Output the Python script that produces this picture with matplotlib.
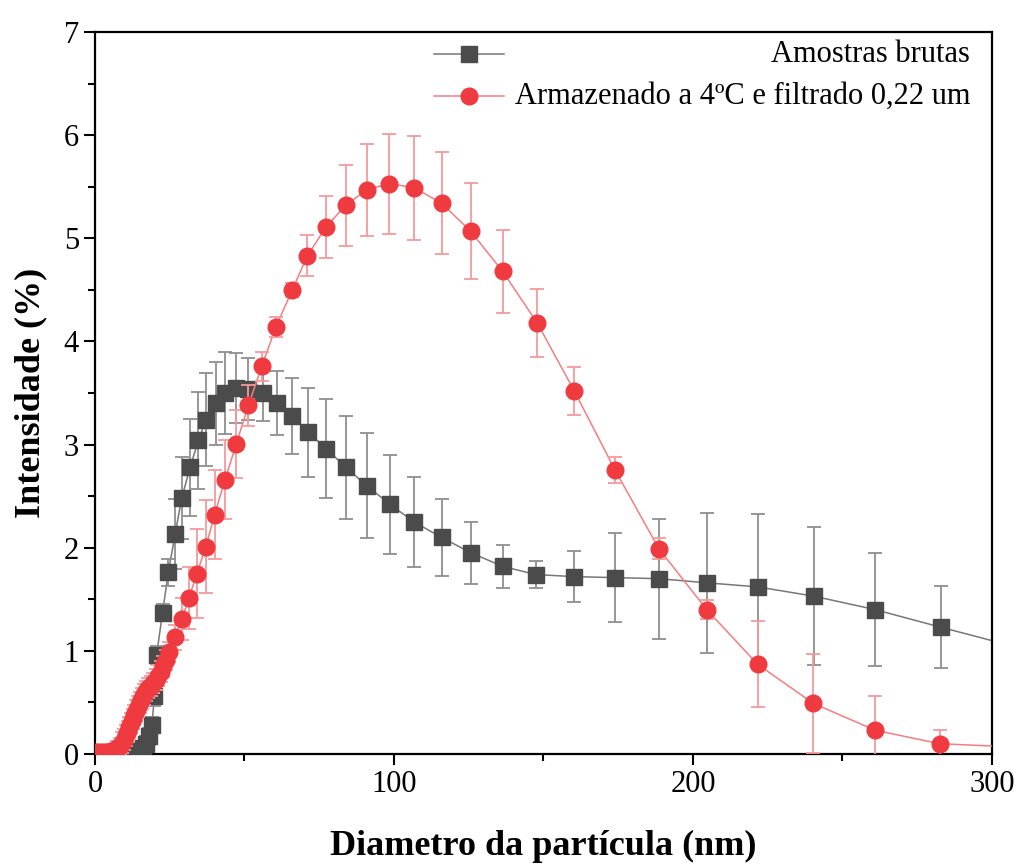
import matplotlib
matplotlib.use("Agg")
import matplotlib.pyplot as plt
from matplotlib.ticker import MultipleLocator

plt.rcParams['font.family'] = ['Liberation Serif', 'DejaVu Serif']

# ---- data: Amostras brutas (black squares) ----
bx = [11.4, 12.4, 13.5, 14.6, 15.4, 16.2, 17.2, 18.2, 19.0, 19.9, 20.6, 22.6, 24.5,
      26.8, 29.0, 31.8, 34.6, 37.1, 40.4, 43.5, 47.2, 51.1, 56.1, 60.8, 65.8, 71.3,
      77.3, 83.9, 90.9, 98.7, 106.7, 115.9, 125.8, 136.3, 147.4, 160.2, 174.0,
      188.6, 204.6, 221.8, 240.5, 260.9, 282.8, 306.5]
by = [0.00, 0.00, 0.01, 0.02, 0.03, 0.06, 0.10, 0.17, 0.28, 0.56, 0.96, 1.37, 1.76,
      2.13, 2.48, 2.78, 3.04, 3.24, 3.40, 3.50, 3.55, 3.54, 3.50, 3.40, 3.28, 3.12,
      2.96, 2.78, 2.60, 2.42, 2.25, 2.10, 1.95, 1.82, 1.74, 1.72, 1.71,
      1.70, 1.66, 1.62, 1.53, 1.40, 1.23, 1.05]
be = [0.02, 0.02, 0.03, 0.04, 0.05, 0.06, 0.07, 0.08, 0.08, 0.09, 0.09, 0.08, 0.13,
      0.34, 0.40, 0.47, 0.47, 0.45, 0.40, 0.40, 0.34, 0.30, 0.27, 0.31, 0.37, 0.43,
      0.48, 0.50, 0.51, 0.48, 0.44, 0.37, 0.30, 0.21, 0.13, 0.25, 0.43,
      0.58, 0.68, 0.71, 0.67, 0.55, 0.40, 0.30]

# ---- data: Armazenado a 4ºC e filtrado 0,22 um (red circles) ----
rx = [0.5, 1.5, 2.5, 3.5, 4.5, 5.5, 6.5, 7.5, 8.3, 9.0, 9.7, 10.3, 10.9, 11.5, 12.0,
      12.6, 13.1, 13.7, 14.3, 14.9, 15.6, 16.3, 17.0, 17.8, 18.6, 19.4, 20.3, 21.2,
      22.0, 22.8, 23.7, 24.7, 26.8, 29.1, 31.4, 34.1, 37.1, 40.0, 43.5, 47.3, 51.3,
      55.8, 60.5, 66.0, 71.0, 77.3, 83.8, 90.9, 98.4, 106.8, 115.9, 125.6, 136.3,
      147.9, 160.3, 174.0, 188.6, 204.6, 221.6, 240.3, 261.0, 282.5, 306.0]
ry = [0.02, 0.02, 0.02, 0.02, 0.02, 0.03, 0.04, 0.06, 0.08, 0.11, 0.14, 0.18, 0.22,
      0.26, 0.30, 0.34, 0.38, 0.42, 0.46, 0.50, 0.54, 0.58, 0.61, 0.64, 0.66, 0.69,
      0.72, 0.76, 0.80, 0.85, 0.91, 0.99, 1.13, 1.31, 1.51, 1.75, 2.01, 2.32, 2.66,
      3.01, 3.38, 3.76, 4.14, 4.50, 4.83, 5.11, 5.32, 5.47, 5.53, 5.49, 5.34, 5.07,
      4.68, 4.18, 3.52, 2.75, 1.99, 1.40, 0.87, 0.49, 0.23, 0.10, 0.07]
re_ = [0.02, 0.02, 0.02, 0.02, 0.02, 0.03, 0.05, 0.07, 0.08, 0.10, 0.10, 0.10, 0.10,
       0.10, 0.10, 0.10, 0.10, 0.10, 0.10, 0.10, 0.10, 0.10, 0.10, 0.10, 0.10, 0.10,
       0.10, 0.10, 0.10, 0.10, 0.10, 0.10, 0.12, 0.20, 0.30, 0.43, 0.45, 0.43, 0.38,
       0.33, 0.20, 0.14, 0.10, 0.07, 0.20, 0.30, 0.39, 0.445, 0.485, 0.505, 0.495,
       0.465, 0.405, 0.33, 0.235, 0.125, 0.10, 0.09, 0.415, 0.48, 0.33, 0.13, 0.05]

labels = ["Amostras brutas", "Armazenado a 4ºC e filtrado 0,22 um"]
xlabel = "Diametro da partícula (nm)"
ylabel = "Intensidade (%)"

blk_marker = "#4b4b4b"
blk_line = "#777777"
blk_err = "#8f8f8f"
red_marker = "#ef3b40"
red_line = "#f47d80"
red_err = "#f59a9c"

fig = plt.figure(figsize=(10.17, 8.67), dpi=100)
ax = fig.add_axes([0.0934, 0.1303, 0.8820, 0.8328])

# black series
ax.plot(bx, by, color=blk_line, lw=1.1, zorder=2)
ax.errorbar(bx, by, yerr=be, fmt='none', ecolor=blk_err, elinewidth=1.3,
            capsize=5, capthick=1.3, zorder=2.5)
ax.plot(bx, by, ls='none', marker='s', ms=11, mfc=blk_marker, mec=blk_marker,
        zorder=3)

# red series
ax.plot(rx, ry, color=red_line, lw=1.1, zorder=3.2)
ax.errorbar(rx, ry, yerr=re_, fmt='none', ecolor=red_err, elinewidth=1.3,
            capsize=5, capthick=1.3, zorder=3.3)
ax.plot(rx, ry, ls='none', marker='o', ms=12, mfc=red_marker, mec=red_marker,
        zorder=3.5)

ax.set_xlim(0, 300)
ax.set_ylim(0, 7)
ax.xaxis.set_major_locator(MultipleLocator(100))
ax.xaxis.set_minor_locator(MultipleLocator(50))
ax.yaxis.set_major_locator(MultipleLocator(1))
ax.yaxis.set_minor_locator(MultipleLocator(0.5))
ax.tick_params(which='major', direction='out', length=8, width=1.5, labelsize=22,
               top=False, right=False)
ax.tick_params(which='minor', direction='out', length=5, width=1.5,
               top=False, right=False)
for s in ax.spines.values():
    s.set_linewidth(1.6)

ax.set_xlabel(xlabel, fontsize=26, fontweight='bold', labelpad=22)
ax.set_ylabel(ylabel, fontsize=26, fontweight='bold', labelpad=12)

# legend (handles on the left, labels right-aligned)
leg_y = [0.9695, 0.911]
hx0, hx1, hxm = 0.378, 0.456, 0.417
tx = 0.9755
ax.plot([hx0, hx1], [leg_y[0]] * 2, transform=ax.transAxes, color=blk_line,
        lw=1.1, clip_on=False, zorder=5)
ax.plot([hxm], [leg_y[0]], transform=ax.transAxes, marker='s', ms=11,
        color=blk_marker, clip_on=False, zorder=6)
ax.plot([hx0, hx1], [leg_y[1]] * 2, transform=ax.transAxes, color=red_line,
        lw=1.1, clip_on=False, zorder=5)
ax.plot([hxm], [leg_y[1]], transform=ax.transAxes, marker='o', ms=12,
        color=red_marker, clip_on=False, zorder=6)
for yy, lab in zip(leg_y, labels):
    ax.text(tx, yy, lab, transform=ax.transAxes, ha='right', va='center',
            fontsize=22, zorder=6)

fig.savefig("out.png", dpi=100)
